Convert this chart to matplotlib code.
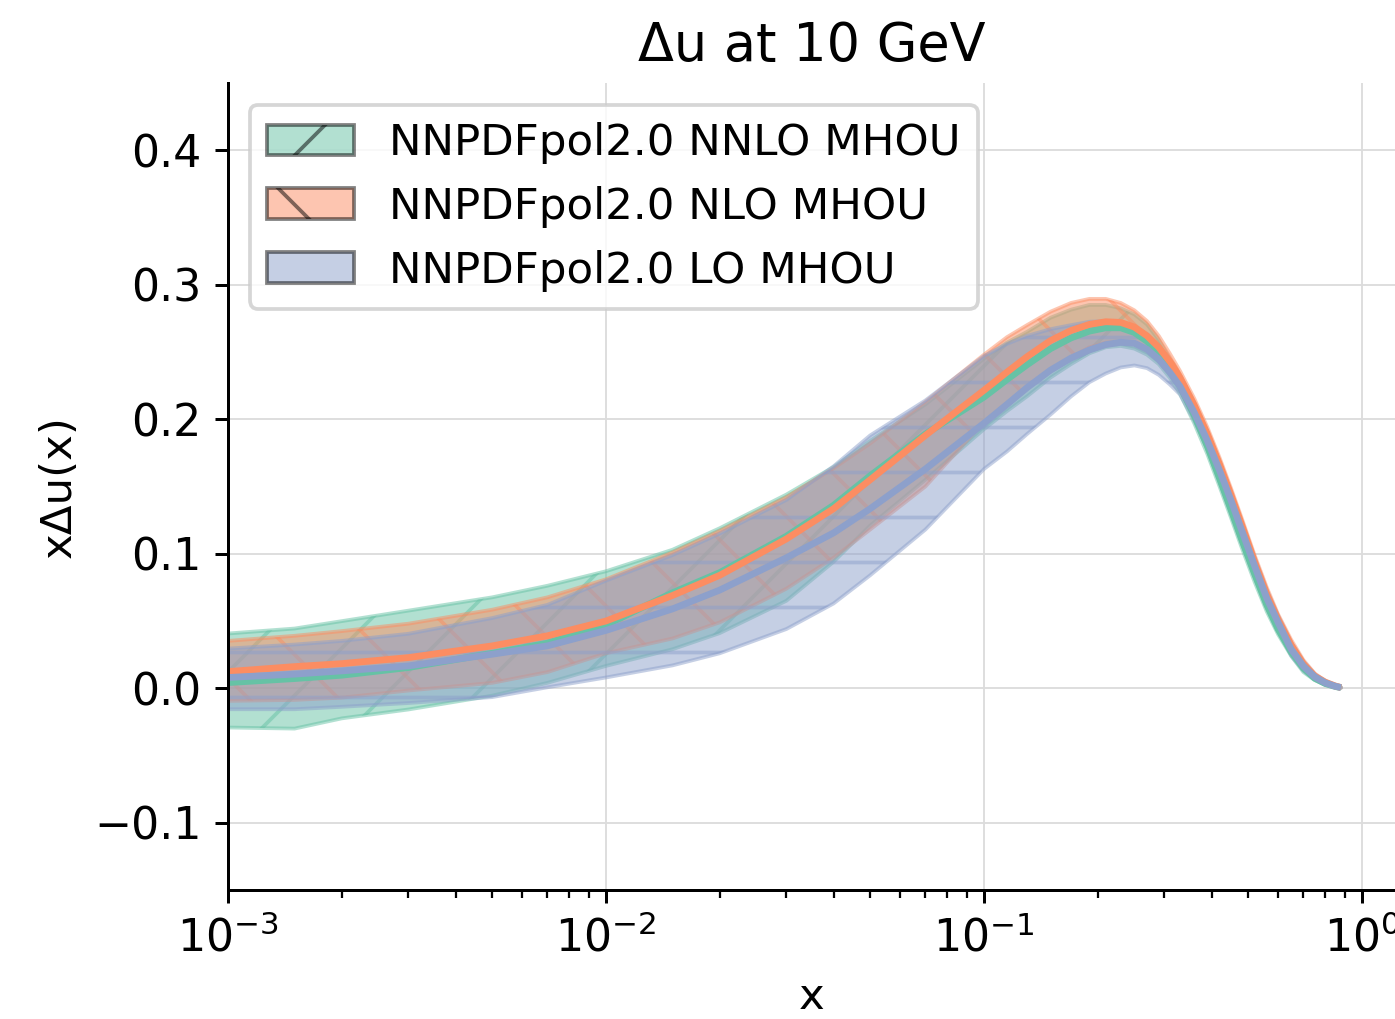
import matplotlib
matplotlib.use("Agg")
import matplotlib.pyplot as plt
from matplotlib.patches import Patch

# ---------------- data ----------------
x = [0.001, 0.0015, 0.002, 0.003, 0.005, 0.007, 0.01, 0.015, 0.02, 0.03, 0.04, 0.05, 0.07,
     0.1, 0.115, 0.13, 0.15, 0.17, 0.19, 0.21, 0.23, 0.25, 0.27, 0.29, 0.31, 0.33, 0.36,
     0.39, 0.42, 0.45, 0.48, 0.52, 0.56, 0.6, 0.65, 0.7, 0.75, 0.8, 0.85, 0.88]

nnlo_cv = [0.0042, 0.0072, 0.0097, 0.0154, 0.026, 0.0335, 0.047, 0.071, 0.086, 0.113, 0.136, 0.158, 0.189,
           0.2165, 0.2295, 0.2405, 0.2525, 0.2605, 0.2655, 0.268, 0.268, 0.2645, 0.258, 0.249, 0.2375, 0.225, 0.203,
           0.180, 0.156, 0.133, 0.111, 0.085, 0.062, 0.044, 0.027, 0.015, 0.0075, 0.0035, 0.0013, 0.0005]
nnlo_up = [0.0407, 0.0444, 0.0499, 0.0577, 0.0676, 0.0762, 0.087, 0.103, 0.119, 0.144, 0.1645, 0.184, 0.211,
           0.245, 0.257, 0.265, 0.2755, 0.2815, 0.285, 0.285, 0.2825, 0.278, 0.2705, 0.259, 0.245, 0.231, 0.209,
           0.186, 0.162, 0.139, 0.117, 0.091, 0.067, 0.048, 0.030, 0.018, 0.009, 0.0045, 0.0017, 0.0007]
nnlo_lo = [-0.0292, -0.030, -0.0224, -0.0158, -0.0055, 0.004, 0.0166, 0.029, 0.041, 0.065, 0.094, 0.121, 0.155,
           0.1926, 0.206, 0.217, 0.231, 0.241, 0.249, 0.2535, 0.2545, 0.2525, 0.248, 0.241, 0.231, 0.219, 0.197,
           0.174, 0.150, 0.127, 0.105, 0.079, 0.057, 0.040, 0.024, 0.012, 0.006, 0.0025, 0.001, 0.0003]

nlo_cv = [0.0124, 0.0161, 0.0183, 0.0228, 0.0315, 0.039, 0.050, 0.069, 0.084, 0.111, 0.1335, 0.155, 0.188,
          0.2215, 0.235, 0.2465, 0.2585, 0.266, 0.2705, 0.2725, 0.272, 0.2685, 0.262, 0.2535, 0.243, 0.231, 0.2105,
          0.189, 0.1665, 0.144, 0.122, 0.094, 0.070, 0.051, 0.032, 0.018, 0.009, 0.0045, 0.0017, 0.0005]
nlo_up = [0.0352, 0.039, 0.0425, 0.048, 0.0584, 0.0676, 0.081, 0.101, 0.117, 0.142, 0.1635, 0.182, 0.213,
          0.248, 0.261, 0.270, 0.280, 0.2865, 0.2895, 0.2895, 0.2865, 0.281, 0.273, 0.262, 0.249, 0.236, 0.2155,
          0.194, 0.1715, 0.149, 0.127, 0.099, 0.075, 0.055, 0.036, 0.021, 0.011, 0.0055, 0.0022, 0.0007]
nlo_lo = [-0.0094, -0.0087, -0.007, -0.0017, 0.004, 0.012, 0.026, 0.037, 0.049, 0.074, 0.097, 0.118, 0.150,
          0.198, 0.212, 0.224, 0.237, 0.246, 0.2535, 0.257, 0.2575, 0.256, 0.251, 0.245, 0.237, 0.226, 0.2055,
          0.184, 0.1615, 0.139, 0.117, 0.089, 0.065, 0.047, 0.028, 0.015, 0.007, 0.0035, 0.0012, 0.0003]

lo_cv = [0.008, 0.0105, 0.0129, 0.0166, 0.0253, 0.0315, 0.043, 0.059, 0.073, 0.097, 0.1155, 0.1335, 0.163,
         0.197, 0.211, 0.2235, 0.2365, 0.2455, 0.2515, 0.2555, 0.2572, 0.2565, 0.252, 0.2445, 0.235, 0.2245, 0.205,
         0.184, 0.162, 0.140, 0.118, 0.091, 0.067, 0.049, 0.029, 0.0165, 0.0085, 0.004, 0.0015, 0.0005]
lo_up = [0.0295, 0.0325, 0.0352, 0.0405, 0.0522, 0.062, 0.080, 0.099, 0.115, 0.140, 0.165, 0.188, 0.214,
         0.247, 0.256, 0.262, 0.267, 0.270, 0.2725, 0.273, 0.272, 0.2685, 0.263, 0.2545, 0.243, 0.2305, 0.211,
         0.190, 0.168, 0.146, 0.124, 0.097, 0.073, 0.054, 0.034, 0.020, 0.0105, 0.005, 0.002, 0.0007]
lo_lo = [-0.0156, -0.0156, -0.0138, -0.011, -0.0066, 0.0007, 0.008, 0.017, 0.026, 0.044, 0.063, 0.084, 0.118,
         0.163, 0.176, 0.189, 0.2035, 0.217, 0.2275, 0.234, 0.2385, 0.240, 0.238, 0.233, 0.226, 0.2185, 0.199,
         0.178, 0.156, 0.134, 0.112, 0.085, 0.061, 0.044, 0.024, 0.013, 0.0065, 0.003, 0.001, 0.0003]

labels = ["NNPDFpol2.0 NNLO MHOU", "NNPDFpol2.0 NLO MHOU", "NNPDFpol2.0 LO MHOU"]
colors = ["#66c2a5", "#fc8d62", "#8da0cb"]
hatches = ["/", "\\", "-"]

title = "Δu at 10 GeV"
xlabel = "x"
ylabel = "xΔu(x)"
yticks = [-0.1, 0.0, 0.1, 0.2, 0.3, 0.4]

# ---------------- figure ----------------
DPI = 270
fig = plt.figure(figsize=(1395 / DPI, 1019 / DPI), dpi=DPI)
ax = fig.add_axes([228 / 1395, 1 - 890 / 1019, 1 - 228 / 1395, (890 - 83) / 1019])

series = [(nnlo_cv, nnlo_up, nnlo_lo), (nlo_cv, nlo_up, nlo_lo), (lo_cv, lo_up, lo_lo)]
handles = []
for (cv, up, lo), c, h, lab in zip(series, colors, hatches, labels):
    ax.fill_between(x, lo, up, color=c, alpha=0.5, hatch=h, zorder=1, linewidth=1.0)
    ax.plot(x, cv, color=c, lw=1.8, zorder=2, solid_capstyle="butt")
    handles.append(Patch(facecolor=c, edgecolor="k", alpha=0.5, hatch=h, linewidth=1.0))

ax.set_xscale("log")
ax.set_xlim(1e-3, 1.223)
ax.set_ylim(-0.15, 0.45)
ax.set_yticks(yticks)

ax.grid(True, which="major", color="#dcdcdc", lw=0.5, zorder=0)
ax.set_axisbelow(True)
for s in ["top", "right"]:
    ax.spines[s].set_visible(False)

ax.tick_params(axis="both", which="major", labelsize=11.8)
ax.set_title(title, fontsize=14)
ax.set_xlabel(xlabel, fontsize=11.6)
ax.set_ylabel(ylabel, fontsize=11.6)

ax.legend(handles, labels, loc="upper left", fontsize=11.6)

fig.savefig("out.png", dpi=DPI)
